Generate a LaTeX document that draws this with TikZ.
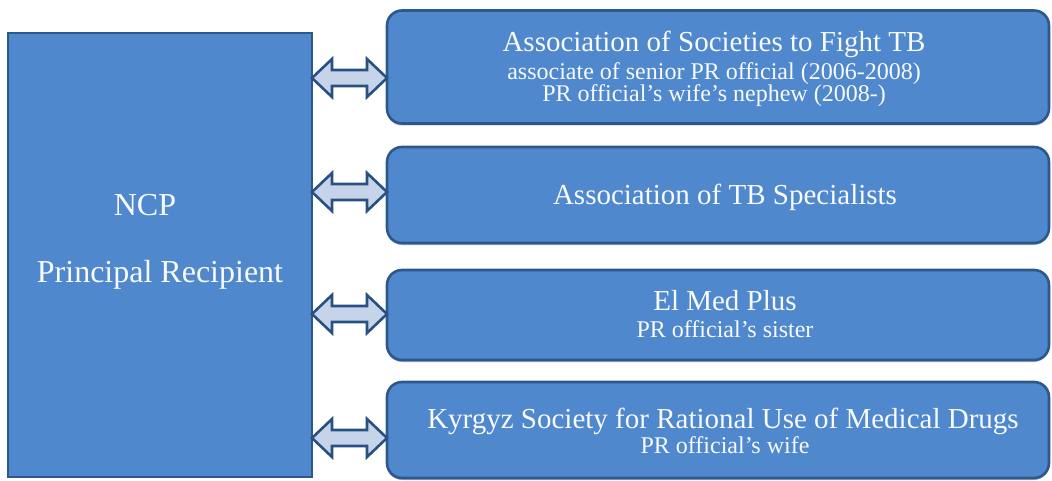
\documentclass[tikz,border=0pt]{standalone}
\usepackage{fontspec}
\setmainfont{Liberation Serif}
\usetikzlibrary{shadows}
\definecolor{boxfill}{RGB}{80,136,206}
\definecolor{boxline}{RGB}{44,88,140}
\definecolor{arrfill}{RGB}{198,212,234}
\definecolor{arrline}{RGB}{40,80,130}
\definecolor{txt}{RGB}{248,250,253}
\tikzset{
  mainbox/.style={draw=boxline, line width=2.6pt, fill=boxfill, outer sep=0pt, inner sep=0pt},
  orgbox/.style={mainbox, rounded corners=15pt, minimum width=662pt,
     drop shadow={shadow xshift=0pt, shadow yshift=-2pt, opacity=0.45, fill=boxline}},
  blockarr/.style={draw=arrline, line width=2.6pt, fill=arrfill, line join=miter},
  big/.style={text=txt, anchor=base, inner sep=0pt, font=\fontsize{29}{29}\selectfont},
  small/.style={text=txt, anchor=base, inner sep=0pt, font=\fontsize{24}{24}\selectfont},
  lefttxt/.style={text=txt, anchor=base, inner sep=0pt, font=\fontsize{32}{32}\selectfont},
}
\newcommand\blockarrow[1]{%
  \draw[blockarr] (#1) -- ++(20,-19) -- ++(0,11) -- ++(35,0) -- ++(0,-11)
     -- ++(20,19) -- ++(-20,19) -- ++(0,-11) -- ++(-35,0) -- ++(0,11) -- cycle;}
\begin{document}
\begin{tikzpicture}[x=1pt,y=-1pt]
\useasboundingbox (0,0) rectangle (1052,481);
% left box
\node[mainbox, minimum width=304pt, minimum height=444pt] (L) at (160,255) {};
\node[lefttxt] (ncp) at (145,215) {NCP};
\node[lefttxt] (pr) at (160,282) {Principal Recipient};
% right boxes
\node[orgbox, minimum height=113pt] (B1) at (718,67) {};
\node[orgbox, minimum height=96pt] (B2) at (718,195) {};
\node[orgbox, minimum height=90pt] (B3) at (718,315) {};
\node[orgbox, minimum height=96pt] (B4) at (718,430) {};
% texts
\node[big] (t1) at (714,52) {Association of Societies to Fight TB};
\node[small] (t1b) at (714,80) {associate of senior PR official (2006-2008)};
\node[small] (t1c) at (714,102) {PR official’s wife’s nephew (2008-)};
\node[big] (t2) at (725,205) {Association of TB Specialists};
\node[big] (t3) at (725,310) {El Med Plus};
\node[small] (t3b) at (725,337) {PR official’s sister};
\node[big] (t4) at (723,428) {Kyrgyz Society for Rational Use of Medical Drugs};
\node[small] (t4b) at (725,453) {PR official’s wife};
% arrows
\coordinate (a1) at (0,78);
\coordinate (a2) at (0,192);
\coordinate (a3) at (0,314);
\coordinate (a4) at (0,438);
\blockarrow{L.east |- a1}
\blockarrow{L.east |- a2}
\blockarrow{L.east |- a3}
\blockarrow{L.east |- a4}
\end{tikzpicture}
\end{document}
